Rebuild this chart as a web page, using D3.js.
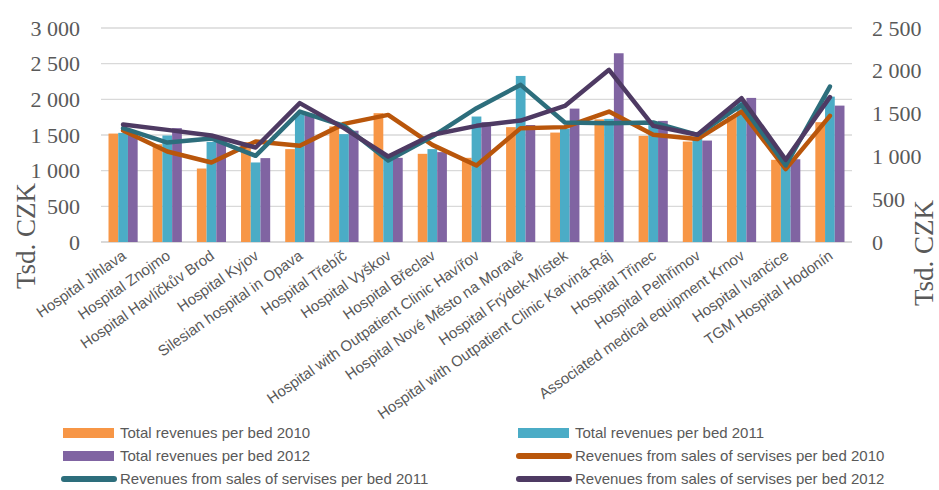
<!DOCTYPE html>
<html>
<head>
<meta charset="utf-8">
<script src="https://cdn.jsdelivr.net/npm/d3@7"></script>
<style>
  body { margin: 0; background: #fff; }
  svg { display: block; }
  text { fill: #595959; }
</style>
</head>
<body>
<svg id="chart" width="939" height="490"></svg>
<script>
// hospitals, in chart order
var hospitals = ["Hospital Jihlava", "Hospital Znojmo", "Hospital Havlíčkův Brod", "Hospital Kyjov",
  "Silesian hospital in Opava", "Hospital Třebíč", "Hospital Vyškov", "Hospital Břeclav",
  "Hospital with Outpatient Clinic Havířov", "Hospital Nové Město na Moravě", "Hospital Frýdek-Místek",
  "Hospital with Outpatient Clinic Karviná-Ráj", "Hospital Třinec", "Hospital Pelhřimov",
  "Associated medical equipment Krnov", "Hospital Ivančice", "TGM Hospital Hodonín"];

// bars, left axis (Tsd. CZK)
var total2010 = [1520, 1370, 1030, 1400, 1302, 1620, 1806, 1236, 1180, 1610, 1534, 1720, 1488, 1408, 1759, 1152, 1680];
var total2011 = [1530, 1493, 1404, 1115, 1792, 1512, 1152, 1302, 1759, 2328, 1590, 1726, 1640, 1450, 1970, 1080, 2038];
var total2012 = [1510, 1596, 1440, 1176, 1800, 1560, 1180, 1260, 1680, 1640, 1870, 2646, 1698, 1422, 2020, 1160, 1912];

// lines, right axis (Tsd. CZK)
var sales2010 = [1302, 1057, 929, 1174, 1124, 1380, 1485, 1135, 894, 1330, 1342, 1524, 1252, 1202, 1524, 852, 1474];
var sales2011 = [1330, 1162, 1209, 1007, 1524, 1357, 952, 1232, 1563, 1836, 1396, 1388, 1396, 1252, 1602, 894, 1816];
var sales2012 = [1372, 1310, 1244, 1104, 1622, 1330, 999, 1252, 1357, 1419, 1590, 2011, 1357, 1252, 1680, 960, 1692];

var leftTicks = [0, 500, 1000, 1500, 2000, 2500, 3000];
var rightTicks = [0, 500, 1000, 1500, 2000, 2500];

var barSeries = [
  {name: "Total revenues per bed 2010", values: total2010, color: "#f79646"},
  {name: "Total revenues per bed 2011", values: total2011, color: "#4bacc6"},
  {name: "Total revenues per bed 2012", values: total2012, color: "#8064a2"}
];
var lineSeries = [
  {name: "Revenues from sales of servises per bed 2010", values: sales2010, color: "#b9560b"},
  {name: "Revenues from sales of servises per bed 2011", values: sales2011, color: "#2d6e7c"},
  {name: "Revenues from sales of servises per bed 2012", values: sales2012, color: "#4e3a63"}
];

var plotLeft = 101, plotRight = 852, plotTop = 28, plotBottom = 242;
var svg = d3.select("#chart");
var fmt = d3.formatLocale({decimal: ",", thousands: "\u00a0", grouping: [3], currency: ["", ""]}).format(",d");

var x = d3.scaleBand().domain(hospitals).range([plotLeft, plotRight]);
var yL = d3.scaleLinear().domain([0, 3000]).range([plotBottom, plotTop]);
var yR = d3.scaleLinear().domain([0, 2500]).range([plotBottom, plotTop]);
var x1 = d3.scaleBand().domain([0, 1, 2]).range([x.bandwidth() * 0.17, x.bandwidth() * 0.83]);

// gridlines
svg.append("g")
  .selectAll("line")
  .data(leftTicks)
  .enter().append("line")
  .attr("x1", plotLeft).attr("x2", plotRight)
  .attr("y1", function(d) { return yL(d); })
  .attr("y2", function(d) { return yL(d); })
  .attr("stroke", "#d9d9d9")
  .attr("stroke-width", function(d) { return d === 0 ? 1.8 : 1.4; });

// left axis
var gl = svg.append("g")
  .attr("transform", "translate(" + (plotLeft - 21) + ",0)")
  .call(d3.axisLeft(yL).tickValues(leftTicks).tickSize(0).tickFormat(fmt));
gl.select(".domain").remove();
gl.selectAll("text")
  .attr("x", 0)
  .style("font-family", "'Liberation Serif', 'Times New Roman', serif")
  .style("font-size", "22px")
  .style("fill", "#595959");

// right axis
var gr = svg.append("g")
  .attr("transform", "translate(" + (plotRight + 20) + ",0)")
  .call(d3.axisRight(yR).tickValues(rightTicks).tickSize(0).tickFormat(fmt));
gr.select(".domain").remove();
gr.selectAll("text")
  .attr("x", 0)
  .style("font-family", "'Liberation Serif', 'Times New Roman', serif")
  .style("font-size", "22px")
  .style("fill", "#595959");

// bars
barSeries.forEach(function(s, si) {
  svg.append("g")
    .selectAll("rect")
    .data(s.values)
    .enter().append("rect")
    .attr("x", function(d, i) { return x(hospitals[i]) + x1(si); })
    .attr("width", x1.bandwidth())
    .attr("y", function(d) { return yL(d); })
    .attr("height", function(d) { return plotBottom - yL(d); })
    .attr("fill", s.color);
});

// lines
var line = d3.line()
  .x(function(d, i) { return x(hospitals[i]) + x.bandwidth() / 2; })
  .y(function(d) { return yR(d); });

lineSeries.forEach(function(s) {
  svg.append("path")
    .datum(s.values)
    .attr("d", line)
    .attr("fill", "none")
    .attr("stroke", s.color)
    .attr("stroke-width", 4.5)
    .attr("stroke-linejoin", "round")
    .attr("stroke-linecap", "round");
});

// category labels
var gx = svg.append("g")
  .attr("transform", "translate(0," + plotBottom + ")")
  .call(d3.axisBottom(x).tickSize(0));
gx.select(".domain").remove();
gx.selectAll("text")
  .attr("x", 0).attr("y", 0).attr("dy", 0)
  .attr("transform", "translate(4,16) rotate(-35)")
  .style("text-anchor", "end")
  .style("font-family", "'Liberation Sans', Arial, sans-serif")
  .style("font-size", "15px")
  .style("fill", "#595959");

// axis titles
svg.append("text")
  .attr("transform", "translate(35,236) rotate(-90)")
  .attr("text-anchor", "middle")
  .style("font-family", "'Liberation Serif', 'Times New Roman', serif")
  .style("font-size", "27px")
  .text("Tsd. CZK");
svg.append("text")
  .attr("transform", "translate(933,253) rotate(-90)")
  .attr("text-anchor", "middle")
  .style("font-family", "'Liberation Serif', 'Times New Roman', serif")
  .style("font-size", "27px")
  .text("Tsd. CZK");

// legend
var legendItems = barSeries.map(function(s) { return {name: s.name, color: s.color, type: "bar"}; })
  .concat(lineSeries.map(function(s) { return {name: s.name, color: s.color, type: "line"}; }));
var colX = [63, 518], rowY = [433, 456, 479];

var leg = svg.append("g")
  .selectAll("g")
  .data(legendItems)
  .enter().append("g")
  .attr("transform", function(d, i) { return "translate(" + colX[i % 2] + "," + rowY[Math.floor(i / 2)] + ")"; });

leg.filter(function(d) { return d.type === "bar"; })
  .append("rect")
  .attr("x", 0).attr("y", -5)
  .attr("width", 51).attr("height", 10)
  .attr("fill", function(d) { return d.color; });

leg.filter(function(d) { return d.type === "line"; })
  .append("line")
  .attr("x1", 1).attr("x2", 51)
  .attr("y1", 0).attr("y2", 0)
  .attr("stroke", function(d) { return d.color; })
  .attr("stroke-width", 6)
  .attr("stroke-linecap", "round");

leg.append("text")
  .attr("x", 57).attr("y", 0).attr("dy", "0.35em")
  .style("font-family", "'Liberation Sans', Arial, sans-serif")
  .style("font-size", "15px")
  .text(function(d) { return d.name; });
</script>
</body>
</html>
